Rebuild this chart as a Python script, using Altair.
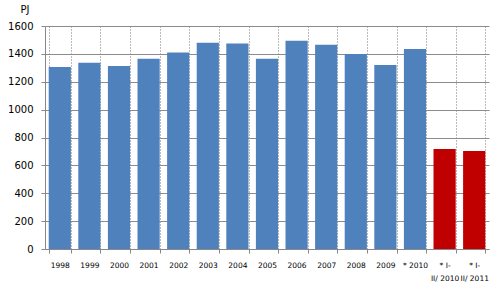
import altair as alt
import pandas as pd

categories = ["1998", "1999", "2000", "2001", "2002", "2003", "2004", "2005",
              "2006", "2007", "2008", "2009", "* 2010", "* I-|II/ 2010", "* I-|II/ 2011"]
values = [1305, 1337, 1313, 1365, 1410, 1480, 1475, 1365, 1495, 1465, 1400, 1320, 1435, 717, 703]
groups = ["year"] * 13 + ["period"] * 2

df = pd.DataFrame({"cat": categories, "val": values, "grp": groups})

font = "DejaVu Sans"

bars = alt.Chart(df).mark_bar().encode(
    x=alt.X("cat:N", sort=categories,
            scale=alt.Scale(paddingInner=0.25, paddingOuter=0.125),
            axis=alt.Axis(title=None, labelAngle=0, labelFont=font, labelFontSize=7.5,
                          labelColor="#000000", labelPadding=8,
                          labelExpr="split(datum.label, '|')", labelLineHeight=13,
                          labelBaseline="top",
                          grid=True, gridDash=[1, 2], gridColor="#777777", gridWidth=1,
                          bandPosition=0, tickBand="extent",
                          domainColor="#888888", tickColor="#888888", tickSize=4)),
    y=alt.Y("val:Q", scale=alt.Scale(domain=[0, 1600], nice=False),
            axis=alt.Axis(values=list(range(0, 1601, 200)), format="d", title="PJ", titleAngle=0,
                          titleFont=font, titleFontSize=10, titleFontWeight="normal",
                          titleX=-25, titleY=-12, titleAlign="left",
                          labelFont=font, labelFontSize=10, labelColor="#000000",
                          labelPadding=8, gridColor="#8c8c8c", domainColor="#888888",
                          tickColor="#888888", tickSize=4)),
    color=alt.Color("grp:N", scale=alt.Scale(domain=["year", "period"],
                                             range=["#4F81BD", "#C00000"]), legend=None),
).properties(width=444, height=223, padding={"left": 45, "top": 26, "right": 4, "bottom": 55},
             autosize=alt.AutoSizeParams(type="none")
).configure_view(stroke=None).configure_axisX(gridOpacity=1)

chart = bars
chart.save("out.html", embed_options={"renderer": "svg", "actions": False})
